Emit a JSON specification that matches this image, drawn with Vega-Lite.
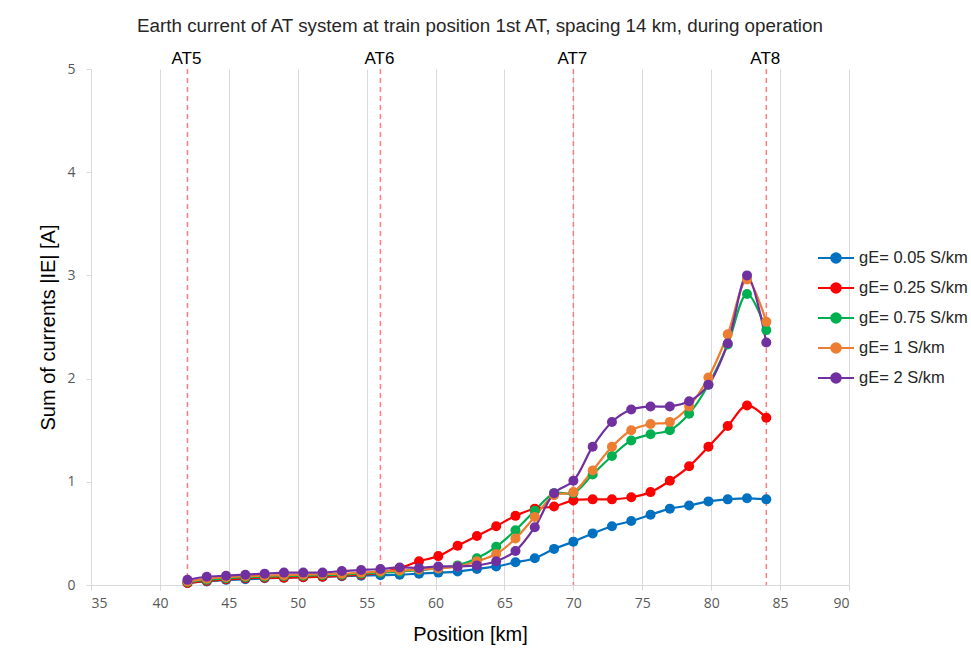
{
  "$schema": "https://vega.github.io/schema/vega-lite/v6.json",
  "autosize": "none",
  "padding": {"left": 91, "top": 69, "right": 122, "bottom": 67},
  "width": 758,
  "height": 516,
  "background": "white",
  "title": {
    "text": "Earth current of AT system at train position 1st AT, spacing 14 km, during operation",
    "font": "Liberation Sans",
    "fontSize": 18.8,
    "fontWeight": "normal",
    "color": "#262626",
    "anchor": "middle",
    "frame": "group",
    "dx": 10,
    "offset": 14
  },
  "config": {
    "view": {"stroke": null},
    "axis": {
      "gridColor": "#d9d9d9",
      "gridWidth": 1,
      "domainColor": "#d9d9d9",
      "tickColor": "#d9d9d9",
      "tickSize": 5,
      "labelColor": "#595959",
      "labelFont": "Open Sans",
      "labelFontSize": 14,
      "titleFont": "Liberation Sans",
      "titleFontSize": 20,
      "titleFontWeight": "normal",
      "titleColor": "#000000"
    }
  },
  "layer": [
    {
      "data": {
        "values": [
          {"pos": 42, "label": "AT5"},
          {"pos": 56, "label": "AT6"},
          {"pos": 70, "label": "AT7"},
          {"pos": 84, "label": "AT8"}
        ]
      },
      "mark": {"type": "rule", "color": "#ff7c80", "strokeWidth": 1.5, "strokeDash": [5, 4]},
      "encoding": {
        "x": {"field": "pos", "type": "quantitative", "scale": {"domain": [35, 90], "nice": false}}
      }
    },
    {
      "data": {
        "values": [
          {"pos": 42, "label": "AT5"},
          {"pos": 56, "label": "AT6"},
          {"pos": 70, "label": "AT7"},
          {"pos": 84, "label": "AT8"}
        ]
      },
      "mark": {"type": "text", "font": "Liberation Sans", "fontSize": 17, "fontWeight": "normal", "color": "#000000", "baseline": "middle", "dy": -10, "dx": -1},
      "encoding": {
        "x": {"field": "pos", "type": "quantitative"},
        "y": {"datum": 5, "type": "quantitative"},
        "text": {"field": "label"}
      }
    },
    {
      "data": {
        "values": [
          {"x": 42, "g": "gE= 0.05 S/km", "I": 0.02},
          {"x": 43.4, "g": "gE= 0.05 S/km", "I": 0.035},
          {"x": 44.8, "g": "gE= 0.05 S/km", "I": 0.05},
          {"x": 46.2, "g": "gE= 0.05 S/km", "I": 0.055},
          {"x": 47.6, "g": "gE= 0.05 S/km", "I": 0.065},
          {"x": 49, "g": "gE= 0.05 S/km", "I": 0.07},
          {"x": 50.4, "g": "gE= 0.05 S/km", "I": 0.075},
          {"x": 51.8, "g": "gE= 0.05 S/km", "I": 0.08},
          {"x": 53.2, "g": "gE= 0.05 S/km", "I": 0.085},
          {"x": 54.6, "g": "gE= 0.05 S/km", "I": 0.09},
          {"x": 56, "g": "gE= 0.05 S/km", "I": 0.095},
          {"x": 57.4, "g": "gE= 0.05 S/km", "I": 0.1},
          {"x": 58.8, "g": "gE= 0.05 S/km", "I": 0.11},
          {"x": 60.2, "g": "gE= 0.05 S/km", "I": 0.12},
          {"x": 61.6, "g": "gE= 0.05 S/km", "I": 0.13},
          {"x": 63, "g": "gE= 0.05 S/km", "I": 0.155},
          {"x": 64.4, "g": "gE= 0.05 S/km", "I": 0.18},
          {"x": 65.8, "g": "gE= 0.05 S/km", "I": 0.22},
          {"x": 67.2, "g": "gE= 0.05 S/km", "I": 0.26},
          {"x": 68.6, "g": "gE= 0.05 S/km", "I": 0.35},
          {"x": 70, "g": "gE= 0.05 S/km", "I": 0.42},
          {"x": 71.4, "g": "gE= 0.05 S/km", "I": 0.5},
          {"x": 72.8, "g": "gE= 0.05 S/km", "I": 0.57},
          {"x": 74.2, "g": "gE= 0.05 S/km", "I": 0.62},
          {"x": 75.6, "g": "gE= 0.05 S/km", "I": 0.68},
          {"x": 77, "g": "gE= 0.05 S/km", "I": 0.74},
          {"x": 78.4, "g": "gE= 0.05 S/km", "I": 0.77},
          {"x": 79.8, "g": "gE= 0.05 S/km", "I": 0.81},
          {"x": 81.2, "g": "gE= 0.05 S/km", "I": 0.83},
          {"x": 82.6, "g": "gE= 0.05 S/km", "I": 0.84},
          {"x": 84, "g": "gE= 0.05 S/km", "I": 0.83},

          {"x": 42, "g": "gE= 0.25 S/km", "I": 0.02},
          {"x": 43.4, "g": "gE= 0.25 S/km", "I": 0.04},
          {"x": 44.8, "g": "gE= 0.25 S/km", "I": 0.055},
          {"x": 46.2, "g": "gE= 0.25 S/km", "I": 0.065},
          {"x": 47.6, "g": "gE= 0.25 S/km", "I": 0.07},
          {"x": 49, "g": "gE= 0.25 S/km", "I": 0.07},
          {"x": 50.4, "g": "gE= 0.25 S/km", "I": 0.075},
          {"x": 51.8, "g": "gE= 0.25 S/km", "I": 0.08},
          {"x": 53.2, "g": "gE= 0.25 S/km", "I": 0.09},
          {"x": 54.6, "g": "gE= 0.25 S/km", "I": 0.1},
          {"x": 56, "g": "gE= 0.25 S/km", "I": 0.12},
          {"x": 57.4, "g": "gE= 0.25 S/km", "I": 0.165},
          {"x": 58.8, "g": "gE= 0.25 S/km", "I": 0.23},
          {"x": 60.2, "g": "gE= 0.25 S/km", "I": 0.28},
          {"x": 61.6, "g": "gE= 0.25 S/km", "I": 0.38},
          {"x": 63, "g": "gE= 0.25 S/km", "I": 0.475},
          {"x": 64.4, "g": "gE= 0.25 S/km", "I": 0.57},
          {"x": 65.8, "g": "gE= 0.25 S/km", "I": 0.67},
          {"x": 67.2, "g": "gE= 0.25 S/km", "I": 0.74},
          {"x": 68.6, "g": "gE= 0.25 S/km", "I": 0.76},
          {"x": 70, "g": "gE= 0.25 S/km", "I": 0.82},
          {"x": 71.4, "g": "gE= 0.25 S/km", "I": 0.83},
          {"x": 72.8, "g": "gE= 0.25 S/km", "I": 0.83},
          {"x": 74.2, "g": "gE= 0.25 S/km", "I": 0.85},
          {"x": 75.6, "g": "gE= 0.25 S/km", "I": 0.9},
          {"x": 77, "g": "gE= 0.25 S/km", "I": 1.01},
          {"x": 78.4, "g": "gE= 0.25 S/km", "I": 1.15},
          {"x": 79.8, "g": "gE= 0.25 S/km", "I": 1.34},
          {"x": 81.2, "g": "gE= 0.25 S/km", "I": 1.54},
          {"x": 82.6, "g": "gE= 0.25 S/km", "I": 1.74},
          {"x": 84, "g": "gE= 0.25 S/km", "I": 1.62},

          {"x": 42, "g": "gE= 0.75 S/km", "I": 0.03},
          {"x": 43.4, "g": "gE= 0.75 S/km", "I": 0.05},
          {"x": 44.8, "g": "gE= 0.75 S/km", "I": 0.065},
          {"x": 46.2, "g": "gE= 0.75 S/km", "I": 0.075},
          {"x": 47.6, "g": "gE= 0.75 S/km", "I": 0.08},
          {"x": 49, "g": "gE= 0.75 S/km", "I": 0.085},
          {"x": 50.4, "g": "gE= 0.75 S/km", "I": 0.09},
          {"x": 51.8, "g": "gE= 0.75 S/km", "I": 0.095},
          {"x": 53.2, "g": "gE= 0.75 S/km", "I": 0.1},
          {"x": 54.6, "g": "gE= 0.75 S/km", "I": 0.11},
          {"x": 56, "g": "gE= 0.75 S/km", "I": 0.12},
          {"x": 57.4, "g": "gE= 0.75 S/km", "I": 0.13},
          {"x": 58.8, "g": "gE= 0.75 S/km", "I": 0.145},
          {"x": 60.2, "g": "gE= 0.75 S/km", "I": 0.16},
          {"x": 61.6, "g": "gE= 0.75 S/km", "I": 0.19},
          {"x": 63, "g": "gE= 0.75 S/km", "I": 0.26},
          {"x": 64.4, "g": "gE= 0.75 S/km", "I": 0.37},
          {"x": 65.8, "g": "gE= 0.75 S/km", "I": 0.53},
          {"x": 67.2, "g": "gE= 0.75 S/km", "I": 0.72},
          {"x": 68.6, "g": "gE= 0.75 S/km", "I": 0.89},
          {"x": 70, "g": "gE= 0.75 S/km", "I": 0.89},
          {"x": 71.4, "g": "gE= 0.75 S/km", "I": 1.07},
          {"x": 72.8, "g": "gE= 0.75 S/km", "I": 1.25},
          {"x": 74.2, "g": "gE= 0.75 S/km", "I": 1.4},
          {"x": 75.6, "g": "gE= 0.75 S/km", "I": 1.46},
          {"x": 77, "g": "gE= 0.75 S/km", "I": 1.5},
          {"x": 78.4, "g": "gE= 0.75 S/km", "I": 1.66},
          {"x": 79.8, "g": "gE= 0.75 S/km", "I": 1.94},
          {"x": 81.2, "g": "gE= 0.75 S/km", "I": 2.33},
          {"x": 82.6, "g": "gE= 0.75 S/km", "I": 2.82},
          {"x": 84, "g": "gE= 0.75 S/km", "I": 2.47},

          {"x": 42, "g": "gE= 1 S/km", "I": 0.035},
          {"x": 43.4, "g": "gE= 1 S/km", "I": 0.06},
          {"x": 44.8, "g": "gE= 1 S/km", "I": 0.075},
          {"x": 46.2, "g": "gE= 1 S/km", "I": 0.085},
          {"x": 47.6, "g": "gE= 1 S/km", "I": 0.09},
          {"x": 49, "g": "gE= 1 S/km", "I": 0.095},
          {"x": 50.4, "g": "gE= 1 S/km", "I": 0.1},
          {"x": 51.8, "g": "gE= 1 S/km", "I": 0.105},
          {"x": 53.2, "g": "gE= 1 S/km", "I": 0.11},
          {"x": 54.6, "g": "gE= 1 S/km", "I": 0.12},
          {"x": 56, "g": "gE= 1 S/km", "I": 0.13},
          {"x": 57.4, "g": "gE= 1 S/km", "I": 0.14},
          {"x": 58.8, "g": "gE= 1 S/km", "I": 0.15},
          {"x": 60.2, "g": "gE= 1 S/km", "I": 0.16},
          {"x": 61.6, "g": "gE= 1 S/km", "I": 0.18},
          {"x": 63, "g": "gE= 1 S/km", "I": 0.23},
          {"x": 64.4, "g": "gE= 1 S/km", "I": 0.3},
          {"x": 65.8, "g": "gE= 1 S/km", "I": 0.45},
          {"x": 67.2, "g": "gE= 1 S/km", "I": 0.66},
          {"x": 68.6, "g": "gE= 1 S/km", "I": 0.87},
          {"x": 70, "g": "gE= 1 S/km", "I": 0.9},
          {"x": 71.4, "g": "gE= 1 S/km", "I": 1.11},
          {"x": 72.8, "g": "gE= 1 S/km", "I": 1.34},
          {"x": 74.2, "g": "gE= 1 S/km", "I": 1.5},
          {"x": 75.6, "g": "gE= 1 S/km", "I": 1.56},
          {"x": 77, "g": "gE= 1 S/km", "I": 1.58},
          {"x": 78.4, "g": "gE= 1 S/km", "I": 1.73},
          {"x": 79.8, "g": "gE= 1 S/km", "I": 2.01},
          {"x": 81.2, "g": "gE= 1 S/km", "I": 2.43},
          {"x": 82.6, "g": "gE= 1 S/km", "I": 2.96},
          {"x": 84, "g": "gE= 1 S/km", "I": 2.55},

          {"x": 42, "g": "gE= 2 S/km", "I": 0.05},
          {"x": 43.4, "g": "gE= 2 S/km", "I": 0.08},
          {"x": 44.8, "g": "gE= 2 S/km", "I": 0.09},
          {"x": 46.2, "g": "gE= 2 S/km", "I": 0.1},
          {"x": 47.6, "g": "gE= 2 S/km", "I": 0.11},
          {"x": 49, "g": "gE= 2 S/km", "I": 0.12},
          {"x": 50.4, "g": "gE= 2 S/km", "I": 0.12},
          {"x": 51.8, "g": "gE= 2 S/km", "I": 0.12},
          {"x": 53.2, "g": "gE= 2 S/km", "I": 0.135},
          {"x": 54.6, "g": "gE= 2 S/km", "I": 0.145},
          {"x": 56, "g": "gE= 2 S/km", "I": 0.155},
          {"x": 57.4, "g": "gE= 2 S/km", "I": 0.17},
          {"x": 58.8, "g": "gE= 2 S/km", "I": 0.165},
          {"x": 60.2, "g": "gE= 2 S/km", "I": 0.18},
          {"x": 61.6, "g": "gE= 2 S/km", "I": 0.18},
          {"x": 63, "g": "gE= 2 S/km", "I": 0.19},
          {"x": 64.4, "g": "gE= 2 S/km", "I": 0.23},
          {"x": 65.8, "g": "gE= 2 S/km", "I": 0.33},
          {"x": 67.2, "g": "gE= 2 S/km", "I": 0.56},
          {"x": 68.6, "g": "gE= 2 S/km", "I": 0.89},
          {"x": 70, "g": "gE= 2 S/km", "I": 1.01},
          {"x": 71.4, "g": "gE= 2 S/km", "I": 1.34},
          {"x": 72.8, "g": "gE= 2 S/km", "I": 1.58},
          {"x": 74.2, "g": "gE= 2 S/km", "I": 1.7},
          {"x": 75.6, "g": "gE= 2 S/km", "I": 1.73},
          {"x": 77, "g": "gE= 2 S/km", "I": 1.73},
          {"x": 78.4, "g": "gE= 2 S/km", "I": 1.78},
          {"x": 79.8, "g": "gE= 2 S/km", "I": 1.94},
          {"x": 81.2, "g": "gE= 2 S/km", "I": 2.34},
          {"x": 82.6, "g": "gE= 2 S/km", "I": 3.0},
          {"x": 84, "g": "gE= 2 S/km", "I": 2.35}
        ]
      },
      "mark": {
        "type": "line",
        "interpolate": "catmull-rom",
        "strokeWidth": 2.2,
        "point": {"filled": true, "size": 100, "opacity": 1}
      },
      "encoding": {
        "x": {
          "field": "x",
          "type": "quantitative",
          "scale": {"domain": [35, 90], "nice": false, "zero": false},
          "axis": {
            "values": [35, 40, 45, 50, 55, 60, 65, 70, 75, 80, 85, 90],
            "format": "d",
            "title": "Position [km]",
            "labelPadding": 6,
            "titlePadding": 14,
            "domain": true
          }
        },
        "y": {
          "field": "I",
          "type": "quantitative",
          "scale": {"domain": [0, 5], "nice": false},
          "axis": {
            "values": [0, 1, 2, 3, 4, 5],
            "format": "d",
            "title": "Sum of currents |IE| [A]",
            "labelPadding": 11,
            "titlePadding": 8,
            "domain": false
          }
        },
        "color": {
          "field": "g",
          "type": "nominal",
          "scale": {
            "domain": ["gE= 0.05 S/km", "gE= 0.25 S/km", "gE= 0.75 S/km", "gE= 1 S/km", "gE= 2 S/km"],
            "range": ["#0070c0", "#ff0000", "#00b050", "#ed7d31", "#7030a0"]
          },
          "legend": {
            "title": null,
            "orient": "none",
            "legendX": 732,
            "legendY": 176,
            "padding": 0,
            "symbolType": "M-1.5,0H1.5M0,-0.4A0.4,0.4,0,1,1,0,0.4A0.4,0.4,0,1,1,0,-0.4Z",
            "symbolSize": 576,
            "symbolStrokeWidth": 2,
            "labelFont": "Liberation Sans",
            "labelFontSize": 16.5,
            "labelColor": "#262626",
            "labelOffset": 10,
            "rowPadding": 8,
            "encode": {
              "symbols": {"update": {"fill": {"scale": "color", "field": "value"}, "opacity": {"value": 1}}}
            }
          }
        }
      }
    }
  ]
}
